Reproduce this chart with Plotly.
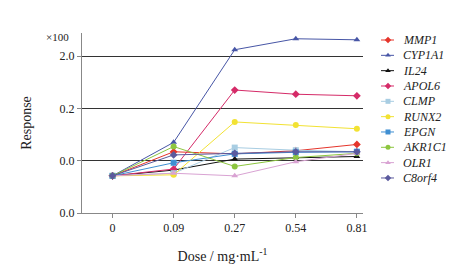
import plotly.graph_objects as go

doses = ["0", "0.09", "0.27", "0.54", "0.81"]
y_tick_pos = [0, 1, 2, 3]
y_tick_text = ["0.0", "0.0", "0.2", "2.0"]

genes = ["MMP1", "CYP1A1", "IL24", "APOL6", "CLMP", "RUNX2", "EPGN", "AKR1C1", "OLR1", "C8orf4"]
MMP1 = [0.71, 1.17, 1.13, 1.19, 1.31]
CYP1A1 = [0.71, 1.35, 3.12, 3.33, 3.31]
IL24 = [0.71, 0.82, 1.03, 1.06, 1.08]
APOL6 = [0.71, 0.84, 2.35, 2.27, 2.24]
CLMP = [0.71, 0.76, 1.25, 1.20, 1.17]
RUNX2 = [0.71, 0.73, 1.74, 1.68, 1.61]
EPGN = [0.71, 0.96, 1.13, 1.16, 1.17]
AKR1C1 = [0.71, 1.27, 0.89, 1.06, 1.14]
OLR1 = [0.71, 0.76, 0.71, 0.98, 1.14]
C8orf4 = [0.71, 1.11, 1.14, 1.17, 1.17]
series = [MMP1, CYP1A1, IL24, APOL6, CLMP, RUNX2, EPGN, AKR1C1, OLR1, C8orf4]

colors = ["#e5352b", "#4756a6", "#111111", "#d52b68", "#a8cde2", "#f2e233",
          "#3f8fd2", "#8dc63f", "#d9a3d3", "#5b5a9e"]
symbols = ["diamond", "triangle-up", "triangle-up", "diamond", "square", "circle",
           "square", "circle", "triangle-up", "diamond"]

W, H = 452, 264
L, R, T, B = 82, 0, 33, 51
plot_right = 363
main_frac = (plot_right - L) / (W - L - R)

FONT = "Liberation Serif"

fig = go.Figure()
for g, vals, c, s in zip(genes, series, colors, symbols):
    fig.add_trace(go.Scatter(
        x=list(range(len(doses))), y=vals, name=g, mode="lines+markers",
        line=dict(color=c, width=1), marker=dict(color=c, symbol=s, size=6),
        xaxis="x", yaxis="y", showlegend=False,
    ))

# custom compact legend drawn on a helper axis (pixel units)
leg_y0, leg_dy = 40, 15.33
annotations = []
for i, (g, c, s) in enumerate(zip(genes, colors, symbols)):
    yy = leg_y0 + leg_dy * i
    fig.add_trace(go.Scatter(
        x=[381, 388, 394], y=[yy, yy, yy], mode="lines",
        line=dict(color=c, width=1), xaxis="x2", yaxis="y2",
        showlegend=False, hoverinfo="skip"))
    fig.add_trace(go.Scatter(
        x=[388], y=[yy], mode="markers",
        marker=dict(color=c, symbol=s, size=5), xaxis="x2", yaxis="y2",
        showlegend=False, hoverinfo="skip"))
    annotations.append(dict(
        text=g, x=401, y=yy, xref="x2", yref="y2", xanchor="left", yanchor="middle",
        showarrow=False, font=dict(family=FONT, size=12, style="italic", color="#222")))

annotations.append(dict(text="×100", xref="paper", yref="paper", x=-0.03, y=0.978,
                        xanchor="right", yanchor="middle", showarrow=False,
                        font=dict(family=FONT, size=11, color="#222")))

fig.update_layout(
    width=W, height=H,
    margin=dict(l=L, r=R, t=T, b=B, autoexpand=False),
    paper_bgcolor="white", plot_bgcolor="white",
    font=dict(family=FONT, size=12, color="#222"),
    showlegend=False,
    xaxis=dict(domain=[0, main_frac], range=[-0.5, 4.1], automargin=False,
               tickvals=list(range(len(doses))), ticktext=doses,
               showgrid=False, showline=True, linecolor="#888", linewidth=1,
               ticks="outside", ticklen=4, tickcolor="#888", zeroline=False,
               title=dict(text="Dose / mg·mL<sup>-1</sup>", font=dict(size=14), standoff=18)),
    yaxis=dict(range=[0, 3.44], tickvals=y_tick_pos, ticktext=y_tick_text,
               automargin=False,
               showgrid=True, gridcolor="#333", gridwidth=1,
               showline=True, linecolor="#888", linewidth=1,
               ticks="outside", ticklen=4, tickcolor="#888", zeroline=False,
               title=dict(text="Response", font=dict(size=14), standoff=24)),
    xaxis2=dict(domain=[main_frac, 1], range=[plot_right, W - R], visible=False,
                anchor="y2", fixedrange=True, automargin=False),
    yaxis2=dict(domain=[0, 1], range=[H - B, T], visible=False,
                anchor="x2", fixedrange=True, automargin=False),
    annotations=annotations,
)

fig.write_html("out.html", config={"displayModeBar": False},
               post_script="document.body.style.margin='0px';document.body.style.overflow='hidden';")
